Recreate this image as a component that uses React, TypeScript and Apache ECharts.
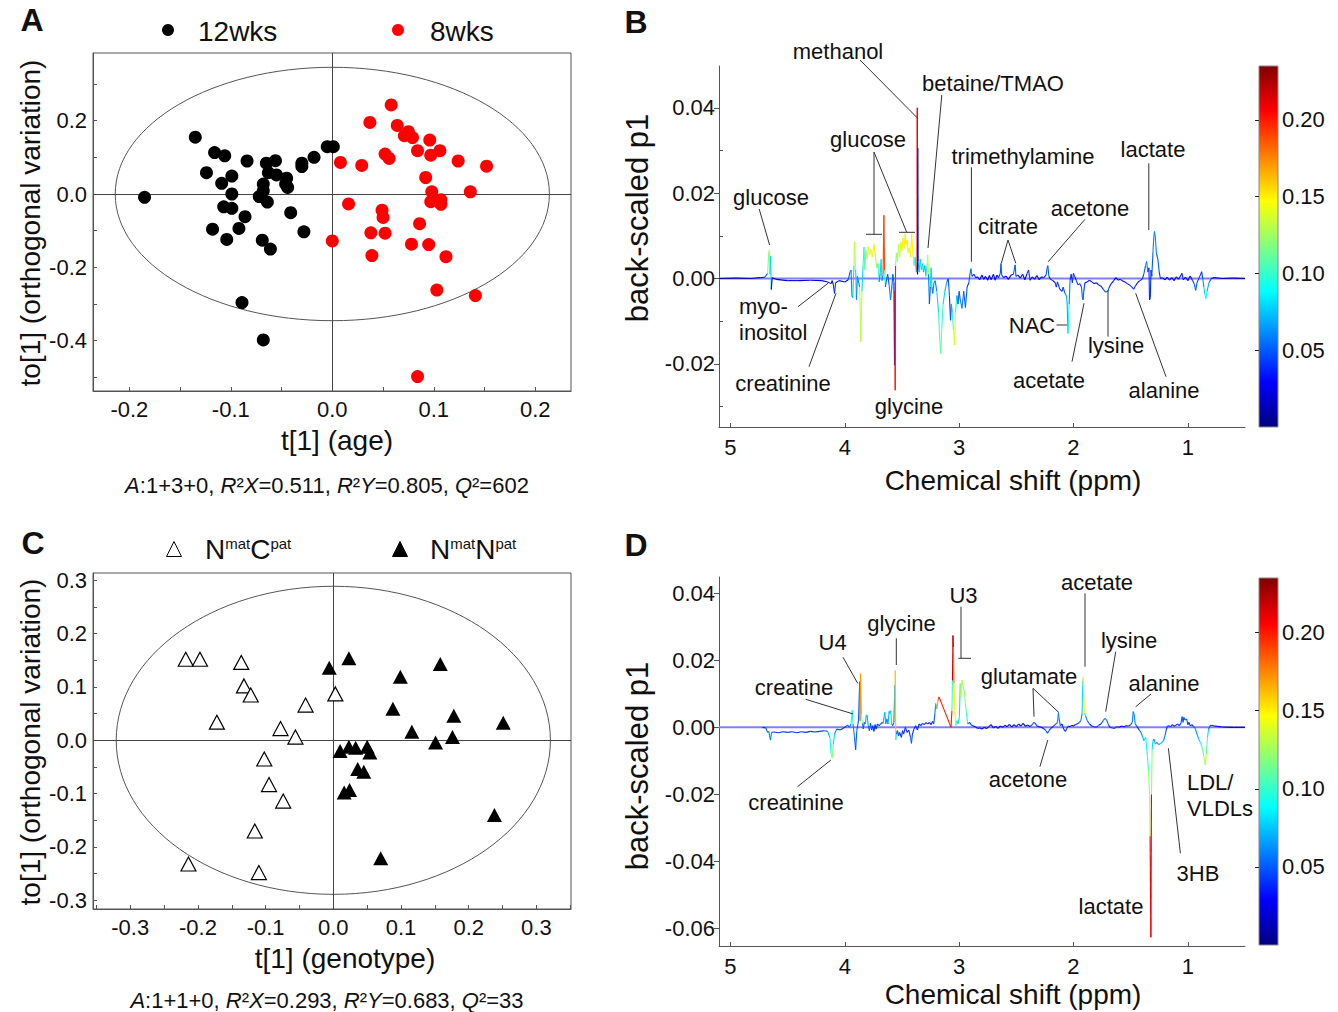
import React, { useEffect, useRef } from "react";
import * as echarts from "echarts";

const FONT = '"Liberation Sans", Arial, sans-serif';

// ---------- Panel A: OPLS-DA scores by age ----------
const weeks12: [number, number][] = [
  [-0.135, 0.155], [-0.116, 0.113], [-0.106, 0.104], [-0.084, 0.09], [-0.124, 0.058],
  [-0.109, 0.029], [-0.099, 0.049], [-0.099, 0.0], [-0.185, -0.009], [-0.107, -0.035],
  [-0.099, -0.039], [-0.086, -0.062], [-0.092, -0.094], [-0.118, -0.096], [-0.104, -0.124],
  [-0.069, -0.126], [-0.061, -0.15], [-0.041, -0.051], [-0.028, -0.103], [-0.065, 0.084],
  [-0.056, 0.091], [-0.063, 0.058], [-0.055, 0.052], [-0.045, 0.043], [-0.046, 0.027],
  [-0.044, 0.018], [-0.068, 0.027], [-0.068, 0.009], [-0.072, -0.007], [-0.064, -0.022],
  [-0.03, 0.084], [-0.03, 0.075], [-0.018, 0.1], [-0.005, 0.129], [0.001, 0.129],
  [-0.089, -0.296], [-0.068, -0.398],
];
const weeks8: [number, number][] = [
  [0.058, 0.243], [0.037, 0.195], [0.064, 0.187], [0.075, 0.17], [0.071, 0.159],
  [0.079, 0.154], [0.096, 0.147], [0.084, 0.118], [0.106, 0.118], [0.097, 0.106],
  [0.052, 0.109], [0.056, 0.097], [0.008, 0.086], [0.029, 0.078], [0.124, 0.09],
  [0.152, 0.076], [0.092, 0.045], [0.136, 0.006], [0.098, 0.006], [0.097, -0.021],
  [0.107, -0.016], [0.107, -0.028], [0.016, -0.027], [0.049, -0.044], [0.05, -0.064],
  [0.086, -0.081], [0.038, -0.106], [0.052, -0.107], [0.0, -0.128], [0.078, -0.137],
  [0.095, -0.138], [0.039, -0.168], [0.112, -0.171], [0.103, -0.262], [0.141, -0.277],
  [0.084, -0.498],
];
const ellipseA = [0, 0, 0.2139, 0.3455];

// ---------- Panel C: OPLS-DA scores by genotype ----------
const nmatCpat: [number, number][] = [
  [-0.218, 0.152], [-0.197, 0.152], [-0.136, 0.146], [-0.132, 0.102], [-0.122, 0.085],
  [-0.172, 0.034], [-0.041, 0.066], [0.003, 0.087], [-0.078, 0.022], [-0.056, 0.006],
  [-0.102, -0.035], [-0.095, -0.083], [-0.074, -0.114], [-0.116, -0.17], [-0.214, -0.232],
  [-0.11, -0.248],
];
const nmatNpat: [number, number][] = [
  [0.023, 0.154], [-0.006, 0.136], [0.158, 0.143], [0.099, 0.119], [0.088, 0.059],
  [0.178, 0.046], [0.251, 0.033], [0.116, 0.016], [0.151, -0.004], [0.176, 0.006],
  [0.01, -0.02], [0.023, -0.012], [0.033, -0.014], [0.05, -0.012], [0.054, -0.023],
  [0.036, -0.054], [0.045, -0.059], [0.016, -0.098], [0.024, -0.093], [0.238, -0.14],
  [0.07, -0.221],
];
const ellipseC = [0, 0, 0.3207, 0.2888];

// ---------- Panel B: loadings (ppm, back-scaled p1, correlation weight) ----------
const spectrumB: [number, number, number][] = [
  [5.1, 0.0, 0.01], [4.95, 0.0001, 0.01], [4.82, 0.0, 0.01], [4.74, 0.0002, 0.02], [4.7, 0.0003, 0.03],
  [4.675, 0.0012, 0.05], [4.665, 0.006, 0.12], [4.66, 0.0066, 0.13], [4.655, 0.001, 0.06], [4.648, 0.0052, 0.08],
  [4.643, -0.0026, 0.03], [4.635, 0.0002, 0.03], [4.6, -0.0002, 0.02], [4.5, -0.0005, 0.02], [4.4, -0.0005, 0.02],
  [4.3, -0.0004, 0.02], [4.2, -0.0005, 0.02], [4.15, -0.0008, 0.03], [4.12, -0.0012, 0.03], [4.11, -0.0005, 0.03],
  [4.1, -0.0015, 0.03], [4.09, -0.0035, 0.04], [4.08, -0.001, 0.03], [4.05, -0.0005, 0.03], [4.0, -0.0008, 0.03],
  [3.97, -0.0003, 0.03], [3.955, 0.0015, 0.05], [3.945, 0.002, 0.06], [3.938, -0.004, 0.05], [3.93, -0.0045, 0.05],
  [3.92, 0.003, 0.08], [3.915, 0.0086, 0.13], [3.905, 0.002, 0.08], [3.898, -0.005, 0.05], [3.89, 0.0005, 0.06],
  [3.87, -0.002, 0.06], [3.86, -0.0148, 0.13], [3.85, -0.003, 0.08], [3.84, 0.003, 0.08], [3.832, 0.0074, 0.1],
  [3.825, 0.002, 0.09], [3.815, 0.0065, 0.12], [3.805, 0.0045, 0.13], [3.795, 0.0075, 0.14], [3.785, 0.0055, 0.13],
  [3.77, 0.0068, 0.14], [3.76, 0.005, 0.12], [3.745, 0.008, 0.15], [3.735, 0.006, 0.13], [3.72, 0.0025, 0.09],
  [3.71, 0.0035, 0.1], [3.7, -0.0008, 0.06], [3.69, 0.0012, 0.06], [3.682, 0.0045, 0.08], [3.675, -0.0005, 0.05],
  [3.665, 0.001, 0.06], [3.658, 0.0148, 0.19], [3.652, 0.002, 0.1], [3.645, -0.002, 0.05], [3.638, -0.0008, 0.05],
  [3.625, 0.001, 0.05], [3.612, -0.0015, 0.05], [3.6, -0.005, 0.06], [3.59, -0.0025, 0.05], [3.58, 0.001, 0.05],
  [3.57, -0.001, 0.03], [3.565, -0.0203, 0.02], [3.562, -0.003, 0.03], [3.559, -0.0262, 0.2], [3.556, 0.003, 0.08],
  [3.548, 0.006, 0.12], [3.54, 0.004, 0.11], [3.53, 0.008, 0.13], [3.52, 0.005, 0.12], [3.51, 0.0085, 0.14],
  [3.5, 0.0065, 0.13], [3.49, 0.0095, 0.15], [3.482, 0.007, 0.14], [3.472, 0.0105, 0.15], [3.465, 0.008, 0.14],
  [3.455, 0.009, 0.15], [3.445, 0.006, 0.13], [3.435, 0.0072, 0.14], [3.425, 0.005, 0.12], [3.415, 0.0105, 0.15],
  [3.405, 0.006, 0.13], [3.395, 0.003, 0.1], [3.385, 0.005, 0.08], [3.375, 0.0015, 0.07], [3.368, 0.002, 0.07],
  [3.366, 0.04, 0.21], [3.364, 0.001, 0.02], [3.362, 0.0305, 0.02], [3.358, 0.004, 0.04], [3.35, 0.0015, 0.06],
  [3.34, 0.0045, 0.08], [3.33, 0.002, 0.07], [3.32, 0.0035, 0.08], [3.312, 0.0015, 0.06], [3.3, 0.003, 0.07],
  [3.29, 0.0005, 0.05], [3.28, 0.0035, 0.1], [3.275, 0.0055, 0.13], [3.268, 0.001, 0.06], [3.26, -0.006, 0.04],
  [3.252, -0.002, 0.05], [3.245, 0.0025, 0.08], [3.238, -0.002, 0.05], [3.23, -0.0035, 0.06], [3.22, -0.001, 0.05],
  [3.21, -0.0005, 0.05], [3.195, -0.003, 0.06], [3.18, -0.008, 0.08], [3.17, -0.014, 0.1], [3.161, -0.0176, 0.11],
  [3.152, -0.012, 0.1], [3.14, -0.006, 0.08], [3.125, -0.003, 0.07], [3.11, -0.001, 0.05], [3.095, 0.0, 0.05],
  [3.085, -0.004, 0.04], [3.075, -0.0098, 0.04], [3.068, -0.006, 0.05], [3.06, -0.008, 0.07], [3.05, -0.012, 0.1],
  [3.041, -0.0156, 0.14], [3.032, -0.008, 0.09], [3.02, -0.004, 0.06], [3.01, -0.006, 0.05], [3.0, -0.003, 0.05],
  [2.99, -0.005, 0.05], [2.975, -0.007, 0.06], [2.96, -0.003, 0.05], [2.945, -0.0068, 0.05], [2.93, -0.002, 0.04],
  [2.915, -0.001, 0.04], [2.9, 0.002, 0.05], [2.896, 0.0023, 0.06], [2.888, 0.0005, 0.04], [2.87, 0.001, 0.04],
  [2.855, 0.0002, 0.03], [2.84, 0.0004, 0.03], [2.82, -0.0003, 0.03], [2.8, 0.0008, 0.03], [2.785, -0.0002, 0.03],
  [2.77, 0.0005, 0.03], [2.75, -0.0004, 0.03], [2.735, 0.0007, 0.03], [2.72, -0.0003, 0.03], [2.7, 0.001, 0.03],
  [2.685, -0.0004, 0.03], [2.67, 0.0008, 0.03], [2.655, 0.0002, 0.03], [2.64, 0.0012, 0.04], [2.634, 0.0035, 0.05],
  [2.628, 0.0008, 0.04], [2.61, 0.0002, 0.03], [2.59, 0.0006, 0.03], [2.57, -0.0002, 0.03], [2.545, 0.0008, 0.03],
  [2.525, 0.001, 0.03], [2.51, 0.0032, 0.05], [2.503, 0.0005, 0.04], [2.485, 0.0008, 0.03], [2.465, 0.0001, 0.03],
  [2.445, 0.001, 0.03], [2.425, -0.0003, 0.03], [2.405, 0.0012, 0.03], [2.393, 0.002, 0.04], [2.38, -0.0004, 0.03],
  [2.36, 0.0004, 0.03], [2.34, -0.0002, 0.03], [2.32, 0.0007, 0.03], [2.3, -0.0003, 0.03], [2.28, 0.0004, 0.03],
  [2.26, 0.0002, 0.03], [2.24, 0.0008, 0.04], [2.23, 0.0025, 0.05], [2.224, 0.003, 0.05], [2.215, 0.0005, 0.04],
  [2.2, -0.0002, 0.03], [2.18, -0.0005, 0.03], [2.16, -0.001, 0.03], [2.15, -0.002, 0.04], [2.14, -0.0008, 0.03],
  [2.12, -0.0025, 0.04], [2.1, -0.003, 0.04], [2.09, -0.002, 0.04], [2.075, -0.0035, 0.05], [2.062, -0.004, 0.06],
  [2.055, -0.006, 0.07], [2.048, -0.0129, 0.07], [2.043, -0.01, 0.09], [2.038, -0.006, 0.06], [2.03, -0.0005, 0.04],
  [2.02, 0.001, 0.04], [2.01, -0.001, 0.03], [2.0, 0.0012, 0.04], [1.99, 0.0005, 0.03], [1.975, -0.0005, 0.03],
  [1.96, -0.0015, 0.04], [1.945, -0.0012, 0.04], [1.93, -0.002, 0.04], [1.922, -0.0045, 0.05], [1.916, -0.005, 0.05],
  [1.91, -0.003, 0.04], [1.9, -0.001, 0.03], [1.88, -0.0008, 0.03], [1.86, -0.0004, 0.03], [1.84, -0.0008, 0.03],
  [1.82, -0.0012, 0.03], [1.8, -0.001, 0.03], [1.78, -0.0015, 0.03], [1.76, -0.0018, 0.04], [1.74, -0.0025, 0.04],
  [1.72, -0.0032, 0.05], [1.7, -0.003, 0.05], [1.69, -0.0022, 0.04], [1.67, -0.0012, 0.03], [1.65, -0.0006, 0.03],
  [1.63, 0.0002, 0.03], [1.61, -0.0004, 0.03], [1.59, -0.0002, 0.03], [1.57, -0.0006, 0.03], [1.55, -0.0008, 0.03],
  [1.53, -0.0012, 0.03], [1.51, -0.0015, 0.03], [1.49, -0.002, 0.04], [1.473, -0.0025, 0.04], [1.46, -0.0018, 0.03],
  [1.44, -0.001, 0.03], [1.42, -0.0005, 0.03], [1.4, -0.0002, 0.03], [1.385, 0.001, 0.04], [1.37, 0.003, 0.05],
  [1.36, 0.004, 0.06], [1.35, 0.0015, 0.05], [1.34, 0.0025, 0.04], [1.335, -0.005, 0.03], [1.328, -0.0045, 0.03],
  [1.322, 0.002, 0.04], [1.315, 0.0005, 0.04], [1.305, 0.006, 0.05], [1.298, 0.0095, 0.06], [1.292, 0.011, 0.06],
  [1.285, 0.01, 0.06], [1.275, 0.006, 0.05], [1.262, 0.0045, 0.05], [1.25, 0.0015, 0.04], [1.24, 0.0, 0.03],
  [1.225, 0.0002, 0.03], [1.2, -0.0003, 0.03], [1.18, 0.0003, 0.03], [1.16, -0.0004, 0.03], [1.14, 0.0002, 0.03],
  [1.12, -0.0005, 0.03], [1.1, 0.0004, 0.03], [1.08, -0.0002, 0.03], [1.06, 0.0008, 0.03], [1.051, 0.0012, 0.04],
  [1.04, -0.0003, 0.03], [1.02, 0.0003, 0.03], [1.0, -0.0005, 0.03], [0.98, 0.0006, 0.03], [0.96, -0.0004, 0.03],
  [0.945, -0.0012, 0.04], [0.931, -0.0028, 0.05], [0.92, -0.001, 0.04], [0.9, 0.0002, 0.03], [0.885, 0.0012, 0.04],
  [0.879, 0.0016, 0.04], [0.87, 0.0, 0.04], [0.86, -0.002, 0.06], [0.85, -0.0038, 0.08], [0.842, -0.0047, 0.09],
  [0.832, -0.003, 0.07], [0.815, -0.001, 0.05], [0.795, 0.0, 0.03], [0.77, 0.0002, 0.02], [0.7, 0.0, 0.01],
  [0.6, 0.0001, 0.01], [0.5, 0.0, 0.01],
];

// ---------- Panel D: loadings (ppm, back-scaled p1, correlation weight) ----------
const spectrumD: [number, number, number][] = [
  [4.72, 0.0, 0.03], [4.69, -0.0002, 0.04], [4.675, -0.0015, 0.05], [4.665, -0.0012, 0.05], [4.65, -0.0038, 0.06],
  [4.64, -0.0015, 0.05], [4.62, -0.0014, 0.04], [4.58, -0.0016, 0.04], [4.54, -0.0013, 0.04], [4.5, -0.0015, 0.04],
  [4.46, -0.0013, 0.04], [4.42, -0.0016, 0.04], [4.38, -0.0013, 0.04], [4.34, -0.0015, 0.04], [4.3, -0.0012, 0.04],
  [4.26, -0.0014, 0.04], [4.22, -0.0012, 0.04], [4.18, -0.001, 0.04], [4.15, -0.0012, 0.05], [4.13, -0.003, 0.07],
  [4.12, -0.0077, 0.09], [4.11, -0.0092, 0.12], [4.1, -0.005, 0.08], [4.09, -0.002, 0.06], [4.07, -0.0005, 0.04],
  [4.04, -0.0008, 0.04], [4.01, -0.0002, 0.04], [3.99, 0.0003, 0.04], [3.975, 0.0007, 0.05], [3.96, 0.0, 0.05],
  [3.945, 0.001, 0.06], [3.935, 0.0051, 0.09], [3.928, 0.001, 0.06], [3.915, -0.003, 0.05], [3.905, -0.0067, 0.04],
  [3.895, -0.001, 0.05], [3.88, 0.002, 0.05], [3.87, 0.0136, 0.05], [3.866, 0.002, 0.06], [3.862, 0.016, 0.17],
  [3.855, 0.004, 0.12], [3.846, 0.0012, 0.06], [3.838, -0.0005, 0.05], [3.83, 0.0015, 0.05], [3.82, 0.001, 0.05],
  [3.812, 0.0037, 0.07], [3.805, 0.0035, 0.07], [3.795, 0.0005, 0.05], [3.785, -0.001, 0.04], [3.775, 0.0012, 0.05],
  [3.765, -0.0008, 0.04], [3.755, 0.0005, 0.04], [3.745, -0.0012, 0.04], [3.735, 0.0008, 0.04], [3.725, -0.0005, 0.04],
  [3.715, 0.001, 0.04], [3.7, 0.0005, 0.04], [3.69, 0.0008, 0.04], [3.675, 0.0015, 0.05], [3.665, 0.0012, 0.05],
  [3.65, 0.0045, 0.07], [3.642, 0.001, 0.05], [3.632, 0.0025, 0.06], [3.622, 0.001, 0.05], [3.612, 0.0048, 0.07],
  [3.605, 0.004, 0.07], [3.598, 0.005, 0.08], [3.59, 0.001, 0.05], [3.58, 0.0005, 0.05], [3.57, 0.0015, 0.05],
  [3.562, 0.0126, 0.05], [3.56, 0.002, 0.08], [3.558, 0.017, 0.16], [3.554, -0.0038, 0.09], [3.548, -0.002, 0.05],
  [3.54, -0.001, 0.04], [3.53, -0.0025, 0.04], [3.52, -0.0015, 0.04], [3.505, -0.003, 0.04], [3.495, -0.001, 0.04],
  [3.485, -0.002, 0.04], [3.47, 0.0, 0.04], [3.455, -0.0015, 0.04], [3.44, -0.0008, 0.04], [3.425, -0.003, 0.04],
  [3.417, -0.0048, 0.05], [3.408, -0.002, 0.04], [3.395, -0.0005, 0.04], [3.38, 0.0005, 0.04], [3.365, -0.0008, 0.04],
  [3.35, 0.001, 0.04], [3.335, 0.0005, 0.04], [3.32, 0.0012, 0.04], [3.305, 0.0008, 0.04], [3.29, 0.0014, 0.04],
  [3.275, 0.001, 0.04], [3.26, 0.0015, 0.04], [3.245, 0.0008, 0.04], [3.232, 0.0018, 0.04], [3.222, 0.001, 0.04],
  [3.212, 0.004, 0.05], [3.205, 0.0071, 0.06], [3.195, 0.0055, 0.08], [3.185, 0.008, 0.17], [3.176, 0.0091, 0.19],
  [3.071, 0.0, 0.2], [3.063, 0.005, 0.1], [3.058, 0.014, 0.06], [3.054, 0.0274, 0.22], [3.05, 0.024, 0.18],
  [3.045, 0.0131, 0.15], [3.038, 0.005, 0.15], [3.03, 0.0005, 0.1], [3.02, 0.002, 0.08], [3.01, 0.001, 0.06],
  [2.998, 0.003, 0.08], [2.99, 0.0131, 0.06], [2.985, 0.009, 0.12], [2.975, 0.0141, 0.13], [2.965, 0.012, 0.12],
  [2.955, 0.011, 0.12], [2.945, 0.007, 0.11], [2.935, 0.004, 0.09], [2.925, 0.001, 0.06], [2.91, 0.0015, 0.04],
  [2.895, 0.0008, 0.04], [2.88, 0.0005, 0.03], [2.86, 0.0002, 0.03], [2.84, -0.0003, 0.03], [2.82, -0.0002, 0.03],
  [2.8, -0.0005, 0.03], [2.78, 0.0, 0.03], [2.76, -0.0004, 0.03], [2.74, 0.0002, 0.03], [2.72, 0.0008, 0.03],
  [2.7, -0.0002, 0.03], [2.68, 0.0003, 0.03], [2.66, -0.0003, 0.03], [2.64, 0.0004, 0.03], [2.62, 0.0, 0.03],
  [2.6, 0.0006, 0.03], [2.58, 0.0002, 0.03], [2.56, 0.0009, 0.03], [2.54, 0.0001, 0.03], [2.52, 0.0008, 0.03],
  [2.5, 0.0002, 0.03], [2.48, 0.001, 0.03], [2.46, 0.0004, 0.03], [2.44, 0.0012, 0.03], [2.42, 0.0003, 0.03],
  [2.4, 0.0007, 0.03], [2.38, 0.0002, 0.03], [2.36, 0.0008, 0.04], [2.347, 0.0015, 0.05], [2.335, 0.0012, 0.04],
  [2.32, 0.0004, 0.03], [2.3, 0.0002, 0.03], [2.28, 0.0, 0.03], [2.26, -0.0004, 0.03], [2.24, -0.001, 0.04],
  [2.227, -0.0018, 0.05], [2.215, -0.001, 0.04], [2.2, -0.0004, 0.03], [2.18, 0.0002, 0.03], [2.16, 0.0008, 0.04],
  [2.14, 0.0015, 0.05], [2.132, 0.0042, 0.06], [2.125, 0.0025, 0.05], [2.115, 0.0005, 0.04], [2.1, 0.001, 0.04],
  [2.085, -0.0006, 0.04], [2.07, -0.0012, 0.04], [2.06, -0.0004, 0.04], [2.045, 0.0004, 0.03], [2.03, 0.0002, 0.03],
  [2.015, 0.0006, 0.03], [2.0, 0.0004, 0.03], [1.985, 0.0008, 0.03], [1.97, 0.001, 0.04], [1.95, 0.0014, 0.04],
  [1.935, 0.002, 0.05], [1.925, 0.004, 0.06], [1.918, 0.014, 0.08], [1.915, 0.015, 0.15], [1.905, 0.0042, 0.09],
  [1.895, 0.0035, 0.06], [1.88, 0.002, 0.05], [1.86, 0.001, 0.04], [1.84, 0.0004, 0.04], [1.82, 0.0002, 0.04],
  [1.8, 0.0, 0.04], [1.78, 0.0006, 0.04], [1.76, 0.001, 0.04], [1.74, 0.002, 0.05], [1.725, 0.0027, 0.06],
  [1.71, 0.0022, 0.05], [1.695, 0.0008, 0.04], [1.68, 0.0, 0.04], [1.66, -0.0002, 0.04], [1.64, -0.0003, 0.04],
  [1.62, 0.0002, 0.04], [1.6, 0.0, 0.03], [1.58, 0.0004, 0.03], [1.56, 0.0002, 0.03], [1.54, 0.0005, 0.03],
  [1.52, 0.0004, 0.03], [1.5, 0.0008, 0.04], [1.485, 0.0015, 0.05], [1.478, 0.0047, 0.06], [1.47, 0.004, 0.06],
  [1.46, 0.001, 0.05], [1.445, 0.0003, 0.04], [1.425, -0.0008, 0.04], [1.41, -0.0015, 0.05], [1.398, -0.0025, 0.06],
  [1.385, -0.004, 0.07], [1.368, -0.003, 0.08], [1.355, -0.008, 0.09], [1.344, -0.0127, 0.1], [1.335, -0.02, 0.12],
  [1.33, -0.0325, 0.13], [1.323, -0.0627, 0.21], [1.318, -0.02, 0.12], [1.312, -0.0067, 0.08], [1.305, -0.004, 0.06],
  [1.295, -0.0035, 0.06], [1.285, -0.005, 0.07], [1.27, -0.0045, 0.07], [1.255, -0.0052, 0.07], [1.24, -0.0048, 0.07],
  [1.225, -0.0045, 0.07], [1.212, -0.004, 0.06], [1.2, -0.0025, 0.05], [1.19, -0.001, 0.04], [1.18, 0.0003, 0.04],
  [1.165, 0.0005, 0.04], [1.15, 0.0002, 0.04], [1.135, 0.0008, 0.04], [1.12, 0.0003, 0.04], [1.105, 0.0006, 0.04],
  [1.09, 0.001, 0.04], [1.075, 0.0005, 0.04], [1.06, 0.0012, 0.04], [1.05, 0.0032, 0.05], [1.042, 0.0015, 0.05],
  [1.035, 0.003, 0.05], [1.025, 0.0022, 0.05], [1.01, 0.0025, 0.05], [1.0, 0.0008, 0.04], [0.99, 0.0015, 0.04],
  [0.98, 0.0005, 0.04], [0.965, 0.0008, 0.04], [0.95, 0.0002, 0.04], [0.935, -0.0003, 0.05], [0.92, -0.002, 0.06],
  [0.905, -0.0035, 0.07], [0.89, -0.0045, 0.08], [0.875, -0.006, 0.09], [0.86, -0.0085, 0.11], [0.848, -0.0112, 0.13],
  [0.838, -0.008, 0.11], [0.828, -0.003, 0.08], [0.818, -0.0005, 0.05], [0.805, 0.0005, 0.04], [0.79, 0.0006, 0.04],
  [0.77, 0.0004, 0.03], [0.74, 0.0003, 0.02], [0.7, 0.0001, 0.01], [0.6, 0.0, 0.01], [0.5, 0.0, 0.01],
];

// ---------- tick values ----------
const aXTicks = [-0.2, -0.15, -0.1, -0.05, 0, 0.05, 0.1, 0.15, 0.2];
const aXLabels = [-0.2, -0.1, 0, 0.1, 0.2];
const aYTicks = [-0.5, -0.4, -0.3, -0.2, -0.1, 0, 0.1, 0.2, 0.3];
const aYLabels = [-0.4, -0.2, 0, 0.2];
const cXTicks = [-0.35, -0.3, -0.25, -0.2, -0.15, -0.1, -0.05, 0, 0.05, 0.1, 0.15, 0.2, 0.25, 0.3, 0.35];
const cXLabels = [-0.3, -0.2, -0.1, 0, 0.1, 0.2, 0.3];
const cYTicks = [-0.3, -0.25, -0.2, -0.15, -0.1, -0.05, 0, 0.05, 0.1, 0.15, 0.2, 0.25, 0.3];
const cYLabels = [-0.3, -0.2, -0.1, 0, 0.1, 0.2, 0.3];
const ppmLabels = [1, 2, 3, 4, 5];
const bYLabels = [-0.02, 0, 0.02, 0.04];
const bYMinor = [-0.03, -0.01, 0.01, 0.03];
const dYLabels = [-0.06, -0.04, -0.02, 0, 0.02, 0.04];
const cbarLabels = [0.05, 0.1, 0.15, 0.2];
const JET = ["#000080", "#0000ff", "#0080ff", "#00ffff", "#80ff80", "#ffff00", "#ff8000", "#ff0000", "#800000"];

// ---------- annotation layout (pixels) ----------
const labelsB: [string, number, number, string?][] = [
  ["methanol", 838, 51], ["betaine/TMAO", 993, 83], ["glucose", 868, 139], ["trimethylamine", 1023, 156],
  ["lactate", 1153, 149], ["glucose", 771, 197], ["citrate", 1008, 226], ["acetone", 1090, 208],
  ["myo-", 739, 306, "left"], ["inositol", 739, 332, "left"], ["creatinine", 783, 383], ["glycine", 909, 406],
  ["NAC", 1032, 325], ["acetate", 1049, 380], ["lysine", 1116, 345], ["alanine", 1164, 390],
];
const leadersB: number[][] = [
  [860, 60, 917.7, 118.3], [941.8, 95, 928, 248], [874, 152, 874, 234.3], [866, 234.3, 882, 234.3],
  [874, 152, 906.6, 232], [899, 232.3, 915, 232.3], [971.4, 167.3, 971.4, 261.7], [1148.8, 163.3, 1148.8, 230],
  [759.2, 209, 769.6, 245], [1008, 240, 1001.3, 263.3], [1008, 240, 1015.8, 263.3], [1085, 219.3, 1048.2, 261.7],
  [798, 306.7, 828, 283.3], [809, 366.7, 836, 293.3], [1056.5, 325, 1067, 325], [1072, 361.7, 1084, 303.3],
  [1108, 336.7, 1108, 290], [1166, 376.7, 1135.7, 293.3],
];
const labelsD: [string, number, number, string?][] = [
  ["acetate", 1097, 582], ["U3", 963.5, 595], ["glycine", 901.5, 623], ["U4", 832.6, 642],
  ["lysine", 1129, 640], ["glutamate", 1029, 676], ["alanine", 1164, 683], ["creatine", 794, 687],
  ["acetone", 1028, 779], ["creatinine", 796, 802], ["LDL/", 1187, 782, "left"], ["VLDLs", 1187, 808, "left"],
  ["3HB", 1198, 873], ["lactate", 1111, 906],
];
const leadersD: number[][] = [
  [1085, 593.3, 1085, 666.7], [961, 606.7, 961, 658.3], [958.3, 658.3, 971, 658.3], [896.3, 638.3, 896.3, 665],
  [843, 657.3, 857.7, 683.3], [1115.7, 651.7, 1105.7, 711.7], [1033, 688.3, 1034, 716.7], [1033, 688.3, 1059, 712.7],
  [1151, 694, 1135.7, 706.7], [805.7, 699.3, 853.3, 714], [1039.9, 766.7, 1047.8, 740], [797.5, 786.7, 830.9, 760],
  [1180.4, 853.3, 1168.4, 748.3],
];

function segments(pts: [number, number, number][]) {
  const out: number[][] = [];
  for (let i = 1; i < pts.length; i++) {
    const a = pts[i - 1];
    const b = pts[i];
    out.push([a[0], a[1], b[0], b[1], Math.max(a[2], b[2])]);
  }
  return out;
}

function txt(text: string, x: number, y: number, size: number, extra: any = {}) {
  const { align, rotation, weight, rich } = extra;
  return {
    type: "text",
    x,
    y,
    rotation: rotation || 0,
    z: 20,
    style: {
      text,
      font: `${weight || "normal"} ${size}px ${FONT}`,
      fill: "#111",
      textAlign: align || "center",
      textVerticalAlign: "middle",
      rich,
    },
  };
}
function seg(l: number[]) {
  return {
    type: "line",
    z: 20,
    shape: { x1: l[0], y1: l[1], x2: l[2], y2: l[3] },
    style: { stroke: "#333", lineWidth: 1 },
  };
}

const tickLabel = { fontSize: 22, color: "#111", fontFamily: FONT };
const axisLineStyle = { color: "#555", width: 1 };

function scatterAxisX(grid: number, min: number, max: number, ticks: number[], labels: number[]) {
  return {
    gridIndex: grid, type: "value", min, max,
    axisLine: { show: true, onZero: false, lineStyle: axisLineStyle },
    axisTick: { show: true, inside: true, length: 4, customValues: ticks, lineStyle: axisLineStyle },
    axisLabel: { ...tickLabel, margin: 7, customValues: labels, formatter: (v: number) => v.toFixed(1) },
    splitLine: { show: false },
  };
}
function scatterAxisY(grid: number, min: number, max: number, ticks: number[], labels: number[]) {
  return {
    gridIndex: grid, type: "value", min, max,
    axisLine: { show: true, onZero: false, lineStyle: axisLineStyle },
    axisTick: { show: true, inside: true, length: 4, customValues: ticks, lineStyle: axisLineStyle },
    axisLabel: { ...tickLabel, margin: 6, customValues: labels, formatter: (v: number) => v.toFixed(1) },
    splitLine: { show: false },
  };
}
function ppmAxis(grid: number) {
  return {
    gridIndex: grid, type: "value", min: 0.5, max: 5.1, inverse: true,
    axisLine: { show: true, onZero: false, lineStyle: axisLineStyle },
    axisTick: { show: true, inside: true, length: 4, customValues: ppmLabels, lineStyle: axisLineStyle },
    axisLabel: { ...tickLabel, margin: 9, customValues: ppmLabels, formatter: (v: number) => String(v) },
    splitLine: { show: false },
  };
}
function loadAxis(grid: number, min: number, max: number, labels: number[]) {
  return {
    gridIndex: grid, type: "value", min, max,
    axisLine: { show: true, onZero: false, lineStyle: axisLineStyle },
    axisTick: { show: true, inside: false, length: 5, customValues: labels, lineStyle: axisLineStyle },
    axisLabel: { ...tickLabel, margin: 4, customValues: labels, formatter: (v: number) => v.toFixed(2) },
    splitLine: { show: false },
  };
}
function cbarAxis(grid: number) {
  return {
    gridIndex: grid, type: "value", min: 0, max: 0.235, position: "right", z: 10,
    axisLine: { show: false },
    axisTick: { show: true, inside: true, length: 4, customValues: cbarLabels, lineStyle: { color: "#222" } },
    axisLabel: { ...tickLabel, margin: 4, customValues: cbarLabels, formatter: (v: number) => v.toFixed(2) },
    splitLine: { show: false },
  };
}

const ellipseRender = (params: any, api: any) => {
  const c = api.coord([api.value(0), api.value(1)]);
  const s = api.size([api.value(2), api.value(3)]);
  return {
    type: "ellipse",
    shape: { cx: c[0], cy: c[1], rx: s[0], ry: s[1] },
    style: { fill: "none", stroke: "#555", lineWidth: 1 },
  };
};
const segRender = (params: any, api: any) => {
  const p1 = api.coord([api.value(0), api.value(1)]);
  const p2 = api.coord([api.value(2), api.value(3)]);
  return {
    type: "line",
    shape: { x1: p1[0], y1: p1[1], x2: p2[0], y2: p2[1] },
    style: { stroke: api.visual("color"), lineWidth: 1.1, fill: null },
  };
};
const crossLines = {
  silent: true,
  symbol: ["none", "none"],
  label: { show: false },
  lineStyle: { color: "#444", width: 1, type: "solid" },
  data: [{ xAxis: 0 }, { yAxis: 0 }],
};

function cbarRect(x: number, y: number, w: number, h: number) {
  return {
    type: "rect",
    z: 1,
    shape: { x, y, width: w, height: h },
    style: {
      fill: {
        type: "linear", x: 0, y: 1, x2: 0, y2: 0,
        colorStops: JET.map((c, i) => ({ offset: i / (JET.length - 1), color: c })),
      },
      stroke: "#888",
      lineWidth: 1,
    },
  };
}

function triangle(cx: number, cy: number, s: number, filled: boolean) {
  return {
    type: "polygon",
    z: 20,
    shape: { points: [[cx, cy - s / 2], [cx + s / 2, cy + s / 2], [cx - s / 2, cy + s / 2]] },
    style: { fill: filled ? "#000" : "#fff", stroke: "#000", lineWidth: 1 },
  };
}

export default function App() {
  const ref = useRef<HTMLDivElement>(null);
  useEffect(() => {
    if (!ref.current) return;
    const chart = echarts.init(ref.current, undefined, { renderer: "svg", width: 1338, height: 1012 });

    const legendRich = {
      n: { fontSize: 28, fontFamily: FONT, fill: "#111", lineHeight: 32 },
      s: { fontSize: 15, fontFamily: FONT, fill: "#111", lineHeight: 16, verticalAlign: "top", padding: [3, 0, 0, 0] },
    };
    const capRich = {
      i: { fontSize: 22, fontFamily: FONT, fontStyle: "italic", fill: "#111" },
      r: { fontSize: 22, fontFamily: FONT, fill: "#111" },
    };

    const graphic: any[] = [
      txt("A", 32, 20, 32, { weight: "bold" }),
      txt("B", 636, 22, 32, { weight: "bold" }),
      txt("C", 33, 543, 32, { weight: "bold" }),
      txt("D", 636, 545, 32, { weight: "bold" }),
      { type: "circle", z: 20, shape: { cx: 168, cy: 30, r: 6 }, style: { fill: "#000" } },
      txt("12wks", 198, 31, 28, { align: "left" }),
      { type: "circle", z: 20, shape: { cx: 398, cy: 30, r: 6 }, style: { fill: "#ff0000" } },
      txt("8wks", 430, 31, 28, { align: "left" }),
      triangle(174, 549, 15, false),
      txt("{n|N}{s|mat}{n|C}{s|pat}", 205, 549, 28, { align: "left", rich: legendRich }),
      triangle(400, 549, 15, true),
      txt("{n|N}{s|mat}{n|N}{s|pat}", 430, 549, 28, { align: "left", rich: legendRich }),
      txt("to[1] (orthogonal variation)", 30, 223, 28, { rotation: Math.PI / 2 }),
      txt("t[1] (age)", 337, 440, 28),
      txt("{i|A}{r|:1+3+0, }{i|R}{r|²}{i|X}{r|=0.511, }{i|R}{r|²}{i|Y}{r|=0.805, }{i|Q}{r|²=602}", 327, 485, 22, { rich: capRich }),
      txt("to[1] (orthogonal variation)", 30, 742, 28, { rotation: Math.PI / 2 }),
      txt("t[1] (genotype)", 345, 958, 28),
      txt("{i|A}{r|:1+1+0, }{i|R}{r|²}{i|X}{r|=0.293, }{i|R}{r|²}{i|Y}{r|=0.683, }{i|Q}{r|²=33}", 327, 1000, 22, { rich: capRich }),
      txt("back-scaled p1", 637, 218, 31, { rotation: Math.PI / 2 }),
      txt("Chemical shift (ppm)", 1013, 480, 28),
      txt("back-scaled p1", 637, 766, 31, { rotation: Math.PI / 2 }),
      txt("Chemical shift (ppm)", 1013, 994, 28),
      cbarRect(1259, 66, 19, 361),
      cbarRect(1259, 578, 19, 367),
      ...labelsB.map((l) => txt(l[0], l[1], l[2], 22, { align: l[3] })),
      ...leadersB.map(seg),
      ...labelsD.map((l) => txt(l[0], l[1], l[2], 22, { align: l[3] })),
      ...leadersD.map(seg),
    ];

    chart.setOption({
      animation: false,
      backgroundColor: "#fff",
      grid: [
        { left: 93, top: 53, width: 478, height: 338, show: true, borderColor: "#555", borderWidth: 1 },
        { left: 719, top: 66, width: 526, height: 361 },
        { left: 93, top: 573, width: 478, height: 336, show: true, borderColor: "#555", borderWidth: 1 },
        { left: 719, top: 577, width: 526, height: 369 },
        { left: 1259, top: 66, width: 19, height: 361 },
        { left: 1259, top: 578, width: 19, height: 367 },
      ],
      xAxis: [
        scatterAxisX(0, -0.2358, 0.2352, aXTicks, aXLabels),
        ppmAxis(1),
        scatterAxisX(2, -0.355, 0.3511, cXTicks, cXLabels),
        ppmAxis(3),
        { gridIndex: 4, type: "value", show: false },
        { gridIndex: 5, type: "value", show: false },
      ],
      yAxis: [
        scatterAxisY(0, -0.5372, 0.3845, aYTicks, aYLabels),
        loadAxis(1, -0.0348, 0.0498, bYLabels),
        scatterAxisY(2, -0.3163, 0.3137, cYTicks, cYLabels),
        loadAxis(3, -0.0653, 0.0449, dYLabels),
        cbarAxis(4),
        cbarAxis(5),
        {
          gridIndex: 1, type: "value", min: -0.0348, max: 0.0498, position: "left",
          axisLine: { show: false },
          axisTick: { show: true, inside: true, length: 4, customValues: bYMinor, lineStyle: axisLineStyle },
          axisLabel: { show: false },
          splitLine: { show: false },
        },
      ],
      visualMap: [
        { type: "continuous", show: false, min: 0, max: 0.235, dimension: 4, seriesIndex: 7, inRange: { color: JET } },
        { type: "continuous", show: false, min: 0, max: 0.235, dimension: 4, seriesIndex: 9, inRange: { color: JET } },
      ],
      series: [
        {
          type: "custom", name: "T2 ellipse A", xAxisIndex: 0, yAxisIndex: 0, z: 2, silent: true,
          encode: { x: 0, y: 1 }, data: [ellipseA], renderItem: ellipseRender, markLine: crossLines,
        },
        {
          type: "scatter", name: "12wks", xAxisIndex: 0, yAxisIndex: 0, z: 5, symbol: "circle", symbolSize: 13,
          itemStyle: { color: "#000", opacity: 1 }, data: weeks12,
        },
        {
          type: "scatter", name: "8wks", xAxisIndex: 0, yAxisIndex: 0, z: 5, symbol: "circle", symbolSize: 13,
          itemStyle: { color: "#ff0000", opacity: 1 }, data: weeks8,
        },
        {
          type: "custom", name: "T2 ellipse C", xAxisIndex: 2, yAxisIndex: 2, z: 2, silent: true,
          encode: { x: 0, y: 1 }, data: [ellipseC], renderItem: ellipseRender, markLine: crossLines,
        },
        {
          type: "scatter", name: "NmatCpat", xAxisIndex: 2, yAxisIndex: 2, z: 5, symbol: "triangle", symbolSize: [15, 14],
          itemStyle: { color: "#fff", borderColor: "#000", borderWidth: 1.2, opacity: 1 }, data: nmatCpat,
        },
        {
          type: "scatter", name: "NmatNpat", xAxisIndex: 2, yAxisIndex: 2, z: 5, symbol: "triangle", symbolSize: [15, 14],
          itemStyle: { color: "#000", opacity: 1 }, data: nmatNpat,
        },
        {
          type: "line", name: "zero B", xAxisIndex: 1, yAxisIndex: 1, z: 1, symbol: "none", silent: true,
          lineStyle: { color: "#8080f0", width: 2 }, data: [[5.1, 0], [0.5, 0]],
        },
        {
          type: "custom", name: "loadings B", xAxisIndex: 1, yAxisIndex: 1, z: 3, clip: true,
          encode: { x: [0, 2], y: [1, 3] }, data: segments(spectrumB), renderItem: segRender,
        },
        {
          type: "line", name: "zero D", xAxisIndex: 3, yAxisIndex: 3, z: 1, symbol: "none", silent: true,
          lineStyle: { color: "#8080f0", width: 2 }, data: [[5.1, 0], [0.5, 0]],
        },
        {
          type: "custom", name: "loadings D", xAxisIndex: 3, yAxisIndex: 3, z: 3, clip: true,
          encode: { x: [0, 2], y: [1, 3] }, data: segments(spectrumD), renderItem: segRender,
        },
      ],
      graphic,
    });
    return () => chart.dispose();
  }, []);
  return <div ref={ref} style={{ position: "absolute", left: 0, top: 0, width: 1338, height: 1012 }} />;
}
